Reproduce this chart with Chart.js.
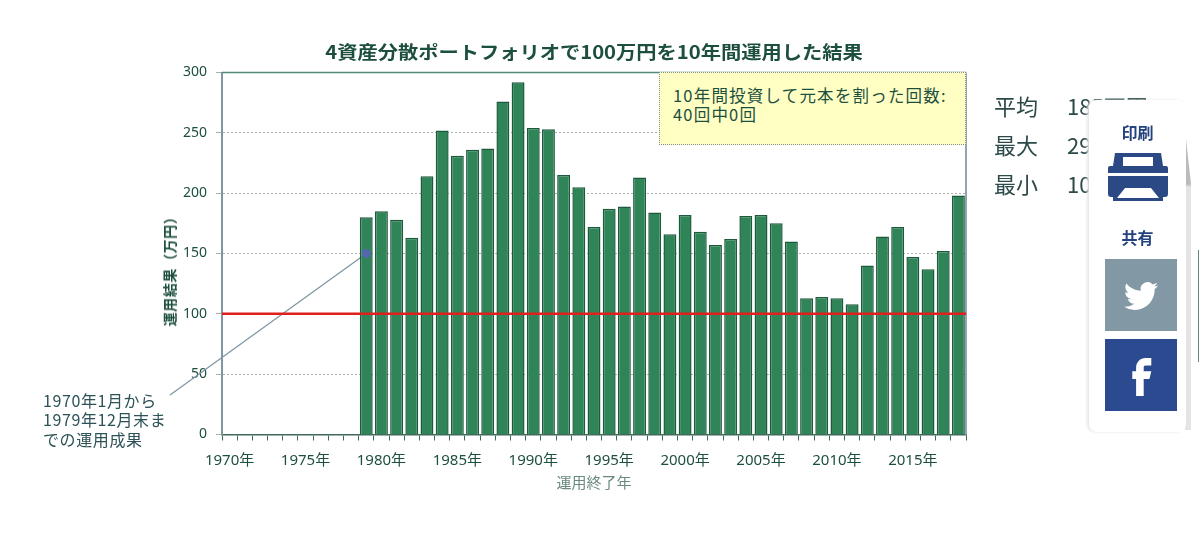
<!DOCTYPE html>
<html lang="ja">
<head>
<meta charset="UTF-8">
<title>4資産分散ポートフォリオ</title>
<script src="https://cdn.jsdelivr.net/npm/chart.js"></script>
<style>
* { margin: 0; padding: 0; box-sizing: border-box; }
body { width: 1200px; height: 535px; background: #fff; overflow: hidden; position: relative;
  font-family: "Noto Sans CJK JP", "Noto Sans", sans-serif; color: #1d4f3e; }
canvas { position: absolute; left: 0; top: 0; }
.abs { position: absolute; white-space: nowrap; }
#title { left: 222px; width: 744px; top: 39px; text-align: center; font-size: 18px; font-weight: 700; line-height: 24px; transform: scaleX(1.125); }
#ytitle { left: 169px; top: 268px; font-size: 14px; font-weight: 700; letter-spacing: .6px; line-height: 14px; transform: translate(-50%, -50%) rotate(-90deg); }
#note { left: 659px; top: 72px; width: 307px; height: 73px; background: #ffffc4; border: 1px dotted #7f8f8f;
  padding: 13px 0 0 13px; font-size: 16.5px; letter-spacing: 1.2px; line-height: 19px; color: #1c4f3e; }
#callout { left: 43px; top: 391px; font-size: 16px; letter-spacing: .6px; line-height: 19.3px; color: #2d5257; }
.stat { left: 994px; font-size: 22px; line-height: 28px; color: #2d4a4a; }
.stat b { font-weight: 400; display: inline-block; width: 73px; }
#panel { left: 1089px; top: 100px; width: 97px; height: 332px; background: #fff; border-radius: 8px; box-shadow: -2px 0 3px #e6e6e6; }
#wedge { left: 1185px; top: 130px; width: 6px; height: 300px; background: linear-gradient(#bbb, #bbb 18%, #e4e4e4 19%, #e4e4e4); clip-path: polygon(0 0, 100% 18%, 100% 100%, 0 100%); }
#edge { left: 1198px; top: 250px; width: 1px; height: 112px; background: #5d8b78; }
.plabel { left: 1089px; width: 97px; text-align: center; font-size: 16px; font-weight: 700; color: #24427f; line-height: 22px; }
.icon { left: 1105px; width: 72px; height: 72px; }
</style>
</head>
<body>
<canvas id="chart" width="1200" height="535"></canvas>
<div class="abs" id="title">4資産分散ポートフォリオで100万円を10年間運用した結果</div>
<div class="abs" id="ytitle">運用結果（万円）</div>
<div class="abs" id="note">10年間投資して元本を割った回数:<br>40回中0回</div>
<div class="abs" id="callout">1970年1月から<br>1979年12月末ま<br>での運用成果</div>
<div class="abs stat" style="top:91px"><b>平均</b>185万円</div>
<div class="abs stat" style="top:130px"><b>最大</b>292万円</div>
<div class="abs stat" style="top:169px"><b>最小</b>108万円</div>
<div class="abs" id="wedge"></div>
<div class="abs" id="edge"></div>
<div class="abs" id="panel"></div>
<div class="abs plabel" style="top:121px">印刷</div>
<svg class="abs" style="left:1108px;top:153px" width="60" height="48" viewBox="0 0 60 48">
  <path fill="#2b4a85" fill-rule="evenodd" d="M7 0 H53 L55 13 H58 Q60 13 60 15 V20 H0 V15 Q0 13 2 13 H5 Z M15 4 V13 H45 V4 Z"/>
  <path fill="#2b4a85" fill-rule="evenodd" d="M0 23 H60 V41 Q60 44 57 44 H55 V48 H5 V44 H3 Q0 44 0 41 Z M17 35 L9 45 H51 L43 35 Z"/>
</svg>
<div class="abs plabel" style="top:226px">共有</div>
<svg class="abs icon" style="top:259px" viewBox="0 0 72 72">
  <rect width="72" height="72" fill="#8299a5"/>
  <path fill="#fff" transform="translate(19 20) scale(1.42)" d="M23.953 4.57a10 10 0 01-2.825.775 4.958 4.958 0 002.163-2.723c-.951.555-2.005.959-3.127 1.184a4.92 4.92 0 00-8.384 4.482C7.69 8.095 4.067 6.13 1.64 3.162a4.822 4.822 0 00-.666 2.475c0 1.71.87 3.213 2.188 4.096a4.904 4.904 0 01-2.228-.616v.06a4.923 4.923 0 003.946 4.827 4.996 4.996 0 01-2.212.085 4.936 4.936 0 004.604 3.417 9.867 9.867 0 01-6.102 2.105c-.39 0-.779-.023-1.17-.067a13.995 13.995 0 007.557 2.209c9.053 0 13.998-7.496 13.998-13.985 0-.21 0-.42-.015-.63A9.935 9.935 0 0024 4.59z"/>
</svg>
<svg class="abs icon" style="top:339px" viewBox="0 0 72 72">
  <rect width="72" height="72" fill="#2b4a8f"/>
  <path fill="#fff" transform="translate(14 11.4) scale(1.9)" d="M14 8h3V4h-3c-2.8 0-5 2.2-5 5v2H7v4h2v9h4v-9h3l1-4h-4V9c0-.6.4-1 1-1z"/>
</svg>
<script>
const years = ['1970年','1971年','1972年','1973年','1974年','1975年','1976年','1977年','1978年','1979年',
  '1980年','1981年','1982年','1983年','1984年','1985年','1986年','1987年','1988年','1989年',
  '1990年','1991年','1992年','1993年','1994年','1995年','1996年','1997年','1998年','1999年',
  '2000年','2001年','2002年','2003年','2004年','2005年','2006年','2007年','2008年','2009年',
  '2010年','2011年','2012年','2013年','2014年','2015年','2016年','2017年','2018年'];
const results = [null,null,null,null,null,null,null,null,null,
  180,185,178,163,214,252,231,236,237,276,292,254,253,215,205,172,187,189,213,184,166,
  182,168,157,162,181,182,175,160,113,114,113,108,140,164,172,147,137,152,198];
const shownYears = ['1970年','1975年','1980年','1985年','1990年','1995年','2000年','2005年','2010年','2015年'];
const principal = 100;
const calloutPoint = [null,null,null,null,null,null,null,null,null,150];

const green = '#1d4f3e';
const tickFont = { family: '"Noto Sans", "Noto Sans CJK JP", sans-serif', size: 14 };

// 引き出し線は棒の下に描く
const leader = {
  id: 'leader',
  beforeDatasetsDraw(chart) {
    const { ctx, scales } = chart;
    ctx.save();
    ctx.strokeStyle = '#7f97a3'; ctx.lineWidth = 1.3;
    ctx.beginPath(); ctx.moveTo(170, 395);
    ctx.lineTo(scales.x.getPixelForValue(9), scales.y.getPixelForValue(150)); ctx.stroke();
    ctx.restore();
  }
};

// 枠線と100万円の赤線
const overlay = {
  id: 'overlay',
  afterDatasetsDraw(chart) {
    const { ctx, chartArea: a, scales } = chart;
    ctx.save();
    ctx.strokeStyle = '#4f8b7a'; ctx.lineWidth = 1.5;
    ctx.beginPath(); ctx.moveTo(a.left, a.top); ctx.lineTo(a.right, a.top); ctx.stroke();
    ctx.strokeStyle = '#93a6ae'; ctx.lineWidth = 2;
    ctx.beginPath(); ctx.moveTo(a.right, a.top); ctx.lineTo(a.right, a.bottom); ctx.stroke();
    const y = scales.y.getPixelForValue(principal);
    ctx.strokeStyle = '#e0201c'; ctx.lineWidth = 2.5;
    ctx.beginPath(); ctx.moveTo(a.left, y); ctx.lineTo(a.right, y); ctx.stroke();
    ctx.restore();
  }
};

new Chart(document.getElementById('chart'), {
  type: 'bar',
  data: {
    labels: years,
    datasets: [
      { type: 'line', data: calloutPoint, pointRadius: 4.5, pointBackgroundColor: '#5566b0', pointBorderWidth: 0, showLine: false, order: 0 },
      { data: results, backgroundColor: '#2f8558', borderColor: '#1c5a3b', borderWidth: 1.5, barPercentage: 0.85, categoryPercentage: 1, order: 1 }
    ]
  },
  options: {
    responsive: false,
    animation: false,
    layout: { padding: { left: 156, right: 234, top: 72.5, bottom: 43.5 } },
    plugins: { legend: { display: false }, tooltip: { enabled: false } },
    scales: {
      x: {
        afterFit(s) { s.height = 57; },
        grid: { display: true, drawOnChartArea: false, offset: true, color: '#3f6b5c', tickLength: 6 },
        border: { color: '#3f6b5c', width: 1.5 },
        ticks: {
          autoSkip: false, maxRotation: 0, minRotation: 0, font: { ...tickFont, size: 15 }, color: green, padding: 11,
          callback(v, i) { return shownYears.includes(years[i]) ? years[i] : ''; }
        },
        title: { display: true, text: '運用終了年', color: '#6a8a80', font: { family: '"Noto Sans CJK JP"', size: 15 }, padding: { top: 0, bottom: 0 } }
      },
      y: {
        min: 0, max: 300,
        afterFit(s) { s.width = 66; },
        grid: { color: '#a9b0a8', tickLength: 6 },
        border: { color: '#7f97a3', width: 2, dash: [2, 2] },
        ticks: { stepSize: 50, font: tickFont, color: green, padding: 9 }
      }
    }
  },
  plugins: [leader, overlay]
});
</script>
</body>
</html>
